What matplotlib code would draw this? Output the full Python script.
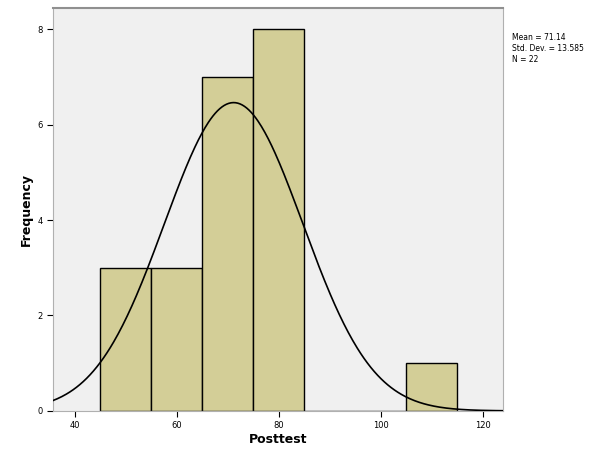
import numpy as np
import matplotlib
matplotlib.use('Agg')
import matplotlib.pyplot as plt

# histogram of posttest scores (bin edges / counts)
bin_edges = [45, 55, 65, 75, 85, 95, 105, 115]
counts = [3, 3, 7, 8, 0, 0, 1]
mean = 71.14
sd = 13.585
n = 22
x_ticks = [40, 60, 80, 100, 120]
y_ticks = [0, 2, 4, 6, 8]

fig = plt.figure(figsize=(6, 4.53), dpi=100)
ax = fig.add_axes([0.088, 0.093, 0.75, 0.889])
ax.set_facecolor('#f0f0f0')

widths = np.diff(bin_edges)
ax.bar(bin_edges[:-1], counts, width=widths, align='edge',
       color='#d3ce97', edgecolor='black', linewidth=1.0, zorder=2)

# normal curve scaled to counts
xs = np.linspace(35.7, 123.9, 400)
bw = widths[0]
ys = n * bw / (sd * np.sqrt(2 * np.pi)) * np.exp(-0.5 * ((xs - mean) / sd) ** 2)
ax.plot(xs, ys, color='black', linewidth=1.2, zorder=3)

ax.set_xlim(35.7, 123.9)
ax.set_ylim(0, 8.44)
ax.set_xticks(x_ticks)
ax.set_yticks(y_ticks)
ax.tick_params(labelsize=6, length=4, width=0.8, direction='out')
for s in ax.spines.values():
    s.set_color('#b0b0b0')
    s.set_linewidth(0.8)
ax.spines['top'].set_color('#909090')
ax.spines['top'].set_linewidth(1.5)

ax.set_xlabel('Posttest', fontsize=9, fontweight='bold', labelpad=2)
ax.set_ylabel('Frequency', fontsize=9, fontweight='bold', labelpad=3)

fig.text(0.853, 0.928, f'Mean = {mean:.2f}\nStd. Dev. = {sd:.3f}\nN = {n}',
         fontsize=5.5, va='top', ha='left', linespacing=1.3)

fig.savefig('out.png', dpi=100)
